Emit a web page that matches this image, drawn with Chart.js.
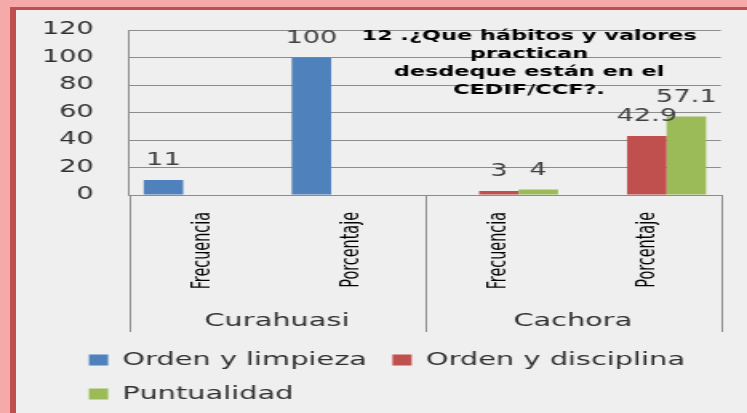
<!DOCTYPE html>
<html><head><meta charset="utf-8">
<script src="https://cdn.jsdelivr.net/npm/chart.js@4.4.1/dist/chart.umd.min.js"></script>
<style>
html,body{margin:0;padding:0;width:747px;height:413px;overflow:hidden;background:#f6a9a9;}
#frame{position:absolute;left:10px;top:7px;width:731px;height:403px;border-left:6px solid #c0504d;border-top:3px solid #c0504d;background:#efefef;}
#c{display:block;}
</style></head><body>
<div id="frame"><canvas id="c" width="457" height="403" style="width:731px;height:403px"></canvas></div>
<script>
const subCategories = ['Frecuencia', 'Porcentaje', 'Frecuencia', 'Porcentaje'];
const groups = ['Curahuasi', 'Cachora'];
const seriesNames = ['Orden y limpieza', 'Orden y disciplina', 'Puntualidad'];
const ordenLimpieza = [11, 100, null, null];
const ordenDisciplina = [null, null, 3, 42.9];
const puntualidad = [null, null, 4, 57.1];
const yTicks = [0, 20, 40, 60, 80, 100, 120];
const titleLines = ['12 .¿Que hábitos y valores', 'practican', 'desdeque están en el', 'CEDIF/CCF?.'];
const seriesColors = ['#4f81bd', '#c0504d', '#9bbb59'];

const GRID = '#8c8c8c';

const valueLabels = {
  id: 'valueLabels',
  afterDatasetsDraw(chart) {
    const ctx = chart.ctx;
    ctx.save();
    ctx.font = '17px "DejaVu Sans"';
    ctx.fillStyle = '#404040';
    ctx.textAlign = 'center';
    ctx.textBaseline = 'middle';
    chart.data.datasets.forEach((ds, i) => {
      chart.getDatasetMeta(i).data.forEach((bar, j) => {
        const v = ds.data[j];
        if (v === null || v === undefined) return;
        ctx.fillText(String(v), bar.x, bar.y - 19);
      });
    });
    ctx.restore();
  }
};

const groupSeparators = {
  id: 'groupSeparators',
  afterDraw(chart) {
    const x2 = chart.scales.x2;
    const ca = chart.chartArea;
    const ctx = chart.ctx;
    ctx.save();
    ctx.strokeStyle = GRID;
    ctx.lineWidth = 1;
    for (let i = 0; i <= groups.length; i++) {
      const px = Math.round(x2.getPixelForValue(i - 0.5)) + 0.5;
      ctx.beginPath();
      ctx.moveTo(px, ca.bottom);
      ctx.lineTo(px, x2.bottom - 3);
      ctx.stroke();
    }
    ctx.restore();
  }
};

const innerTitle = {
  id: 'innerTitle',
  afterDraw(chart) {
    const ca = chart.chartArea;
    const ctx = chart.ctx;
    ctx.save();
    ctx.font = 'bold 14px "DejaVu Sans"';
    ctx.fillStyle = '#000';
    ctx.textAlign = 'center';
    ctx.textBaseline = 'middle';
    const cx = ca.left + (ca.right - ca.left) * 0.676;
    titleLines.forEach((t, i) => ctx.fillText(t, cx, ca.top + 6 + i * 18));
    ctx.restore();
  }
};

const legendShift = {
  id: 'legendShift',
  afterLayout(chart) {
    const lg = chart.legend;
    if (lg) { lg.left += 14.6; lg.right += 14.6; }
  }
};

const seriesData = [ordenLimpieza, ordenDisciplina, puntualidad];

new Chart(document.getElementById('c'), {
  type: 'bar',
  data: {
    labels: subCategories,
    datasets: seriesNames.map((name, i) => ({
      label: name,
      data: seriesData[i],
      backgroundColor: seriesColors[i],
      borderWidth: 0,
      categoryPercentage: 0.8,
      barPercentage: 1.0
    }))
  },
  options: {
    responsive: false,
    animation: false,
    devicePixelRatio: 1,
    layout: { padding: { left: 15, right: 16.4, top: 20, bottom: 0 } },
    plugins: {
      title: { display: false },
      tooltip: { enabled: false },
      legend: {
        position: 'bottom',
        align: 'start',
        labels: {
          boxWidth: 12,
          boxHeight: 11,
          padding: 16,
          color: '#303030',
          font: { family: '"DejaVu Sans"', size: 18 }
        }
      }
    },
    scales: {
      x: {
        type: 'category',
        offset: true,
        afterFit(s) { s.height = 99; },
        grid: { display: false, drawTicks: false },
        border: { display: true, color: GRID },
        ticks: {
          minRotation: 90, maxRotation: 90, autoSkip: false, padding: 17,
          color: '#000',
          font: { family: '"DejaVu Sans Condensed", Roboto, sans-serif', size: 16 }
        }
      },
      x2: {
        type: 'category',
        labels: groups,
        offset: true,
        position: 'bottom',
        afterFit(s) { s.height = 41; },
        grid: { display: false, drawTicks: false },
        border: { display: false },
        ticks: {
          padding: 17,
          color: '#303030',
          font: { family: '"DejaVu Sans"', size: 18 }
        }
      },
      y: {
        min: 0, max: 120,
        afterBuildTicks(s) { s.ticks = yTicks.map(v => ({ value: v })); },
        afterFit(s) { s.width = 55.6; },
        grid: { color: GRID, drawTicks: true, tickLength: 19, tickColor: 'rgba(0,0,0,0)' },
        border: { display: true, color: GRID },
        ticks: {
          autoSkip: false,
          padding: 3,
          color: '#303030',
          font: { family: '"DejaVu Sans"', size: 17 }
        }
      }
    }
  },
  plugins: [valueLabels, groupSeparators, innerTitle, legendShift]
});
</script>
</body></html>
